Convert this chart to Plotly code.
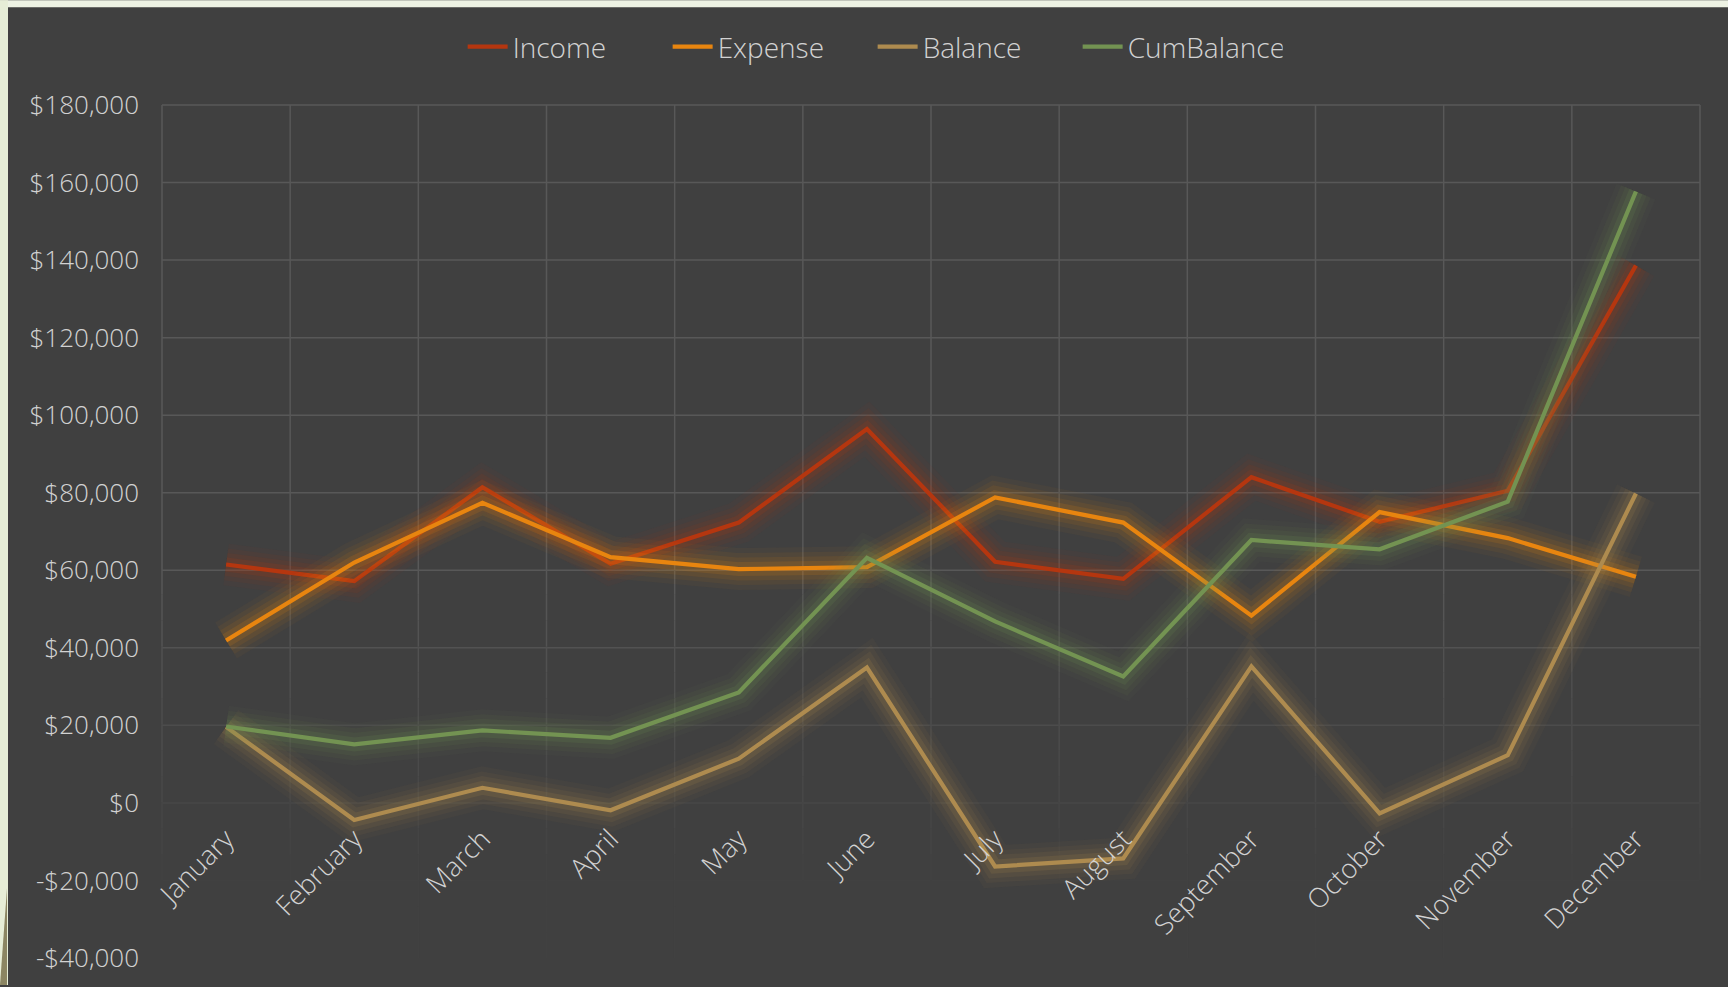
import plotly.graph_objects as go

# ---------------- data ----------------
months = ["January", "February", "March", "April", "May", "June",
          "July", "August", "September", "October", "November", "December"]
income = [61500, 57200, 81400, 61700, 72300, 96400, 62200, 57800, 84000, 72500, 80500, 138600]
expense = [41900, 62000, 77400, 63400, 60300, 60800, 78800, 72300, 48300, 75000, 68300, 58300]
balance = [19600, -4400, 3900, -1900, 11400, 34900, -16400, -14300, 35200, -2700, 12300, 79800]
cum_balance = [19700, 15100, 18700, 16800, 28500, 63200, 46800, 32600, 67800, 65400, 77700, 157700]

y_tick_vals = [-40000, -20000, 0, 20000, 40000, 60000, 80000, 100000,
               120000, 140000, 160000, 180000]
y_tick_text = ["-$40,000", "-$20,000", "$0", "$20,000", "$40,000", "$60,000",
               "$80,000", "$100,000", "$120,000", "$140,000", "$160,000", "$180,000"]

series_names = ["Income", "Expense", "Balance", "CumBalance"]
series_values = [income, expense, balance, cum_balance]
series_colors = [(181, 54, 15), (232, 133, 15), (174, 139, 79), (115, 147, 82)]

# ---------------- layout geometry (pixels) ----------------
W, H = 1728, 987
L, R, T, B = 162, 28, 105, 27
plot_w = W - L - R
plot_h = H - T - B
y_min, y_max = -40000, 180000
zero_frac = (0 - y_min) / (y_max - y_min)

def px_x(px):
    return (px - L) / plot_w

def px_y(py):
    return (H - B - py) / plot_h

def frac_to_py(f):
    return H - B - f * plot_h

BG = (64, 64, 64)
GRID = (88, 88, 88)
TEXT = "#d2d2d2"
FONT = "Open Sans"

def grid_color(py):
    # grid fades out towards the bottom of the chart
    if py <= 570:
        a = 1.0
    else:
        a = max(0.03, 1.0 - 0.95 * (py - 570) / 310)
    c = [round(BG[i] + (GRID[i] - BG[i]) * a) for i in range(3)]
    return f"rgb({c[0]},{c[1]},{c[2]})"

fig = go.Figure()

glow_layers = [(42, 0.045), (32, 0.065), (23, 0.09), (14, 0.14)]
for name, vals, (r, g, b) in zip(series_names, series_values, series_colors):
    for w, a in glow_layers:
        fig.add_trace(go.Scatter(
            x=months, y=vals, mode="lines",
            line=dict(color=f"rgba({r},{g},{b},{a})", width=w),
            showlegend=False, hoverinfo="skip"))
    fig.add_trace(go.Scatter(
        x=months, y=vals, mode="lines", name=name,
        line=dict(color=f"rgb({r},{g},{b})", width=4.2)))

shapes = [
    # light slide strips (top and left)
    dict(type="rect", xref="paper", yref="paper", layer="below",
         x0=px_x(0), x1=px_x(W), y0=px_y(7), y1=px_y(0),
         fillcolor="#edf2e3", line=dict(width=0)),
    dict(type="rect", xref="paper", yref="paper", layer="below",
         x0=px_x(0), x1=px_x(8), y0=px_y(H), y1=px_y(0),
         fillcolor="#e6edd6", line=dict(width=0)),
    dict(type="path", xref="paper", yref="paper", layer="below",
         path=f"M {px_x(0)},{px_y(H)} L {px_x(7)},{px_y(H)} L {px_x(7)},{px_y(890)} Z",
         fillcolor="#8b8562", line=dict(width=0)),
]

# horizontal grid lines at the y ticks
for v in y_tick_vals:
    f = (v - y_min) / (y_max - y_min)
    shapes.append(dict(type="line", xref="paper", yref="paper", layer="below",
                       x0=0, x1=1, y0=f, y1=f,
                       line=dict(color=grid_color(frac_to_py(f)), width=1.5)))

# vertical grid lines at the category boundaries, in fading segments
n_cat = len(months)
seg_edges = [1.0] + [px_y(py) for py in range(570, H - B, 26)] + [0.0]
for k in range(n_cat + 1):
    xf = k / n_cat
    for j in range(len(seg_edges) - 1):
        ya, yb = seg_edges[j], seg_edges[j + 1]
        mid_py = frac_to_py((ya + yb) / 2)
        shapes.append(dict(type="line", xref="paper", yref="paper", layer="below",
                           x0=xf, x1=xf, y0=ya, y1=yb,
                           line=dict(color=grid_color(mid_py), width=1.5)))

fig.update_layout(
    width=W, height=H,
    margin=dict(l=L, r=R, t=T, b=B, pad=0),
    paper_bgcolor="rgb(64,64,64)",
    plot_bgcolor="rgba(0,0,0,0)",
    font=dict(family=FONT, size=25, color=TEXT),
    shapes=shapes,
    showlegend=True,
    legend=dict(orientation="h", xref="container", yref="container",
                x=0.505, xanchor="center", y=1 - 47 / H, yanchor="middle",
                font=dict(family=FONT, size=28, color=TEXT, weight=300),
                bgcolor="rgba(0,0,0,0)", itemwidth=40,
                entrywidth=150, entrywidthmode="pixels"),
    xaxis=dict(
        type="category", categoryorder="array", categoryarray=months,
        range=[-0.5, 11.5], showgrid=False,
        anchor="free", position=zero_frac,
        showline=False, ticks="", zeroline=False,
        tickangle=-45, ticklabelstandoff=14,
        tickfont=dict(family=FONT, size=27, color=TEXT, weight=300),
    ),
    yaxis=dict(
        range=[y_min, y_max], tickmode="array",
        tickvals=y_tick_vals, ticktext=y_tick_text,
        showgrid=False, zeroline=False, showline=False, ticks="",
        ticklabelstandoff=22,
        tickfont=dict(family=FONT, size=26, color=TEXT, weight=300),
    ),
)

fig.write_html("out.html", config={"displayModeBar": False},
               post_script="document.body.style.margin='0px';document.body.style.overflow='hidden';")
